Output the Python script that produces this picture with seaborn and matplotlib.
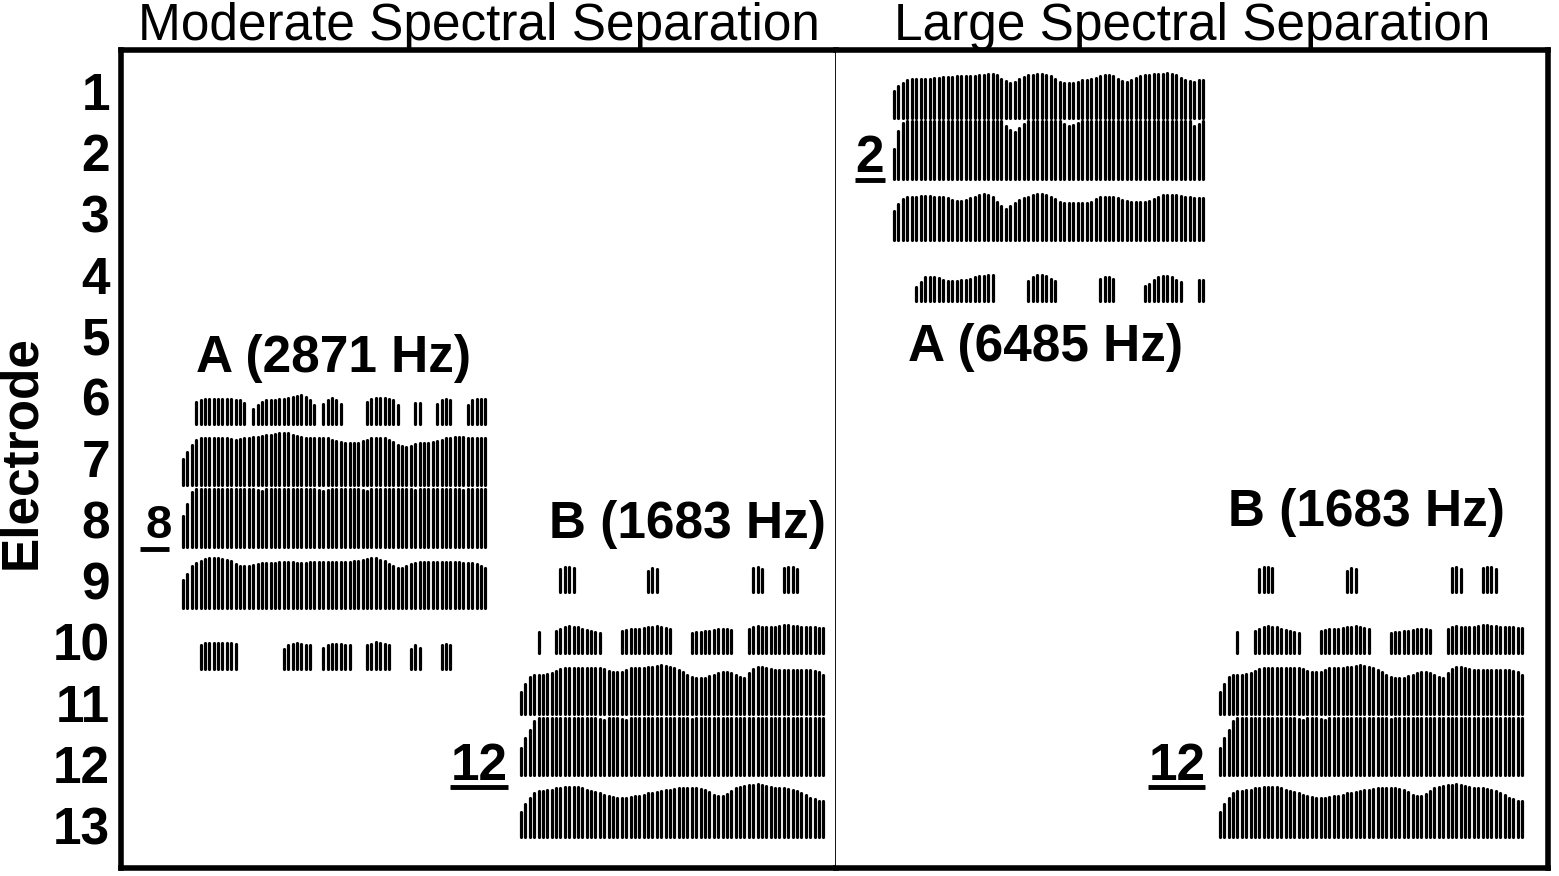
import matplotlib
matplotlib.use("Agg")
import matplotlib.pyplot as plt
import pandas as pd
import seaborn as sns

electrodes = list(range(1, 14))
panel_titles = ["Moderate Spectral Separation", "Large Spectral Separation"]
tone_labels = ["A (2871 Hz)", "B (1683 Hz)", "A (6485 Hz)", "B (1683 Hz)"]
ref_labels = ["8", "12", "2", "12"]

# pulse amplitudes, one value per pulse (70 pulses per row), in % of the electrode spacing
a2871_e6 = [0, 0, 0, 42, 45, 46, 46, 46, 46, 46,
            46, 46, 45, 44, 40, 0, 30, 37, 42, 44,
            44, 44, 46, 46, 48, 50, 52, 53, 50, 45,
            36, 0, 38, 44, 48, 44, 38, 0, 0, 0,
            0, 0, 42, 47, 48, 48, 48, 47, 44, 36,
            0, 0, 0, 40, 40, 0, 0, 0, 38, 44,
            47, 44, 0, 0, 0, 36, 44, 47, 47, 46]
a2871_e7 = [49, 59, 71, 79, 82, 83, 83, 83, 83, 82,
            82, 81, 80, 81, 82, 83, 84, 85, 86, 87,
            88, 89, 90, 91, 90, 88, 86, 84, 83, 83,
            83, 82, 82, 82, 80, 78, 76, 74, 74, 74,
            75, 77, 80, 82, 83, 83, 82, 80, 76, 71,
            69, 68, 70, 72, 74, 75, 75, 76, 78, 80,
            82, 83, 84, 84, 84, 83, 83, 83, 83, 83]
a2871_e8 = [55, 75, 95, 99, 99, 99, 99, 99, 99, 99,
            99, 99, 99, 99, 99, 99, 99, 97, 96, 99,
            99, 99, 99, 99, 99, 99, 99, 99, 99, 99,
            99, 97, 96, 97, 99, 99, 99, 99, 99, 99,
            99, 97, 96, 99, 99, 99, 99, 99, 99, 99,
            99, 99, 99, 97, 99, 99, 99, 99, 99, 99,
            99, 99, 99, 99, 97, 99, 99, 99, 99, 99]
a2871_e9 = [51, 61, 73, 79, 82, 85, 86, 86, 86, 85,
            84, 81, 77, 74, 73, 73, 75, 77, 78, 79,
            79, 79, 80, 80, 80, 80, 79, 79, 79, 80,
            80, 80, 80, 80, 80, 80, 80, 80, 80, 81,
            82, 83, 85, 86, 86, 84, 81, 77, 73, 70,
            70, 73, 77, 79, 80, 80, 80, 80, 80, 80,
            80, 80, 80, 80, 79, 79, 78, 76, 73, 71]
a2871_e10 = [0, 0, 0, 0, 44, 47, 48, 48, 48, 48,
             47, 47, 46, 0, 0, 0, 0, 0, 0, 0,
             0, 0, 0, 38, 44, 46, 48, 46, 45, 44,
             0, 0, 40, 44, 46, 46, 46, 45, 44, 0,
             0, 0, 44, 46, 49, 48, 46, 44, 0, 0,
             0, 0, 38, 44, 40, 0, 0, 0, 0, 44,
             46, 44, 0, 0, 0, 0, 0, 0, 0, 0]

b1683_e9 = [0, 0, 0, 0, 0, 0, 0, 0, 0, 42,
            46, 46, 44, 0, 0, 0, 0, 0, 0, 0,
            0, 0, 0, 0, 0, 0, 0, 0, 0, 40,
            44, 42, 0, 0, 0, 0, 0, 0, 0, 0,
            0, 0, 0, 0, 0, 0, 0, 0, 0, 0,
            0, 0, 0, 45, 46, 42, 0, 0, 0, 0,
            44, 46, 46, 43, 0, 0, 0, 0, 0, 0]
b1683_e10 = [0, 0, 0, 0, 40, 0, 0, 0, 41, 45,
             48, 49, 48, 47, 44, 43, 41, 40, 38, 0,
             0, 0, 0, 42, 43, 44, 44, 45, 46, 47,
             48, 49, 48, 46, 44, 0, 0, 0, 0, 38,
             39, 40, 41, 42, 43, 44, 45, 45, 43, 0,
             0, 0, 44, 48, 50, 48, 47, 47, 48, 50,
             51, 51, 50, 49, 48, 48, 47, 47, 46, 46]
b1683_e11 = [41, 55, 66, 69, 70, 70, 71, 73, 76, 79,
             80, 80, 80, 81, 81, 80, 80, 80, 80, 79,
             76, 74, 74, 75, 78, 80, 80, 81, 81, 82,
             83, 84, 85, 84, 82, 80, 77, 74, 70, 66,
             64, 64, 65, 67, 70, 73, 74, 74, 73, 70,
             66, 64, 72, 79, 82, 82, 80, 79, 78, 78,
             78, 78, 78, 78, 78, 77, 77, 76, 74, 70]
b1683_e12 = [50, 66, 80, 94, 99, 99, 99, 99, 99, 99,
             99, 99, 99, 99, 99, 99, 99, 99, 97, 96,
             99, 99, 99, 97, 96, 99, 99, 99, 99, 99,
             99, 99, 99, 99, 99, 99, 99, 99, 99, 97,
             99, 99, 99, 99, 99, 99, 99, 99, 99, 99,
             99, 99, 99, 99, 99, 99, 99, 99, 99, 99,
             99, 99, 99, 99, 99, 99, 99, 99, 99, 99]
b1683_e13 = [45, 58, 69, 77, 79, 80, 81, 82, 84, 85,
             86, 87, 87, 86, 85, 82, 80, 78, 76, 73,
             71, 70, 69, 69, 69, 70, 71, 72, 74, 76,
             77, 78, 79, 81, 82, 83, 84, 84, 84, 84,
             84, 83, 81, 78, 74, 72, 72, 75, 80, 84,
             86, 88, 89, 90, 91, 90, 88, 86, 84, 84,
             84, 83, 82, 80, 77, 73, 69, 66, 64, 63]

a6485_e1 = [48, 56, 61, 66, 68, 68, 69, 69, 69, 70,
            70, 71, 71, 72, 73, 73, 73, 73, 73, 74,
            75, 76, 77, 74, 69, 65, 62, 63, 68, 72,
            74, 75, 76, 76, 75, 73, 68, 63, 61, 61,
            62, 64, 66, 67, 68, 70, 73, 75, 75, 73,
            69, 65, 64, 66, 70, 73, 74, 75, 76, 77,
            77, 78, 77, 74, 70, 67, 65, 64, 66, 67]
a6485_e2 = [54, 84, 96, 99, 99, 99, 99, 99, 99, 99,
            99, 99, 99, 99, 99, 99, 99, 99, 99, 99,
            99, 99, 99, 99, 99, 92, 85, 82, 88, 95,
            99, 99, 99, 99, 99, 99, 99, 99, 95, 92,
            93, 96, 99, 99, 99, 99, 99, 99, 99, 99,
            99, 99, 99, 99, 99, 99, 99, 99, 99, 99,
            99, 99, 99, 99, 99, 99, 99, 92, 95, 99]
a6485_e3 = [53, 64, 72, 75, 76, 76, 77, 77, 77, 76,
            76, 76, 74, 71, 69, 69, 70, 73, 76, 78,
            80, 79, 76, 68, 60, 56, 60, 66, 70, 73,
            76, 78, 80, 81, 78, 76, 72, 68, 66, 65,
            65, 65, 65, 66, 68, 72, 75, 76, 76, 76,
            74, 71, 69, 68, 68, 68, 68, 69, 72, 76,
            78, 79, 79, 78, 77, 76, 75, 74, 74, 73]
a6485_e4 = [0, 0, 0, 0, 0, 29, 37, 44, 45, 45,
            43, 40, 38, 38, 38, 39, 40, 42, 44, 46,
            47, 48, 48, 0, 0, 0, 0, 0, 0, 0,
            38, 44, 48, 48, 46, 42, 38, 0, 0, 0,
            0, 0, 0, 0, 0, 0, 42, 44, 44, 42,
            0, 0, 0, 0, 0, 0, 30, 34, 40, 44,
            47, 47, 45, 40, 36, 0, 0, 0, 40, 40]

a2871 = {6: a2871_e6, 7: a2871_e7, 8: a2871_e8, 9: a2871_e9, 10: a2871_e10}
b1683 = {9: b1683_e9, 10: b1683_e10, 11: b1683_e11, 12: b1683_e12, 13: b1683_e13}
a6485 = {1: a6485_e1, 2: a6485_e2, 3: a6485_e3, 4: a6485_e4}

# (panel, stimulus, first pulse time, pulse period) - time in pulse periods
stimuli = [(0, a2871, 14.16, 1.0), (0, b1683, 91.3, 1.0),
           (1, a6485, 13.24, 1.023), (1, b1683, 87.67, 1.0)]

# layout
W, H = 1559, 876
baseline_shift = [0.47, 0.21, 0.46, 0.21]
pulse_lw = 2.3
cap = 0.026
label_pos = [(48.6, 5.59), (129.2, 8.30), (47.9, 5.41), (121.2, 8.11)]
ref_pos = [(8.7, 8.30, 8.48, 4.3, 11.0, 34), (81.7, 12.26, 12.38, 75.1, 88.4, 37),
           (7.76, 2.32, 2.45, 4.3, 11.2, 37), (77.9, 12.26, 12.38, 71.2, 84.2, 37)]

sns.set_style("white")
plt.rcParams["font.family"] = ["Liberation Sans", "DejaVu Sans"]
plt.rcParams["text.color"] = "black"
plt.rcParams["ytick.color"] = "black"
plt.rcParams["axes.labelcolor"] = "black"

records = []
pid = 0
for k, (panel, rows, t0, period) in enumerate(stimuli):
    for elec, amps in rows.items():
        base = elec + baseline_shift[k]
        for i, a in enumerate(amps):
            if a <= 0:
                continue
            t = t0 + i * period
            records.append((panel, pid, t, base - cap))
            records.append((panel, pid, t, base - a / 100 + cap))
            pid += 1
pulses = pd.DataFrame(records, columns=["panel", "pulse", "t", "y"])

fig = plt.figure(figsize=(W / 100, H / 100), dpi=100)
ax1 = fig.add_axes([121 / W, 8 / H, 715 / W, 818.5 / H])
ax2 = fig.add_axes([836 / W, 8 / H, 712 / W, 818.5 / H])
axes = [ax1, ax2]
xmax = [163.2, 162.6]

for p, ax in enumerate(axes):
    sns.lineplot(data=pulses[pulses["panel"] == p], x="t", y="y", units="pulse",
                 estimator=None, sort=False, color="black", lw=pulse_lw,
                 solid_capstyle="round", legend=False, ax=ax)
    ax.set_xlim(0, xmax[p])
    ax.set_ylim(13.696, 0.322)
    ax.set_xticks([])
    ax.set_xlabel("")
    ax.set_ylabel("")
    for s in ax.spines.values():
        s.set_color("black")
        s.set_linewidth(4)

ax1.spines["right"].set_linewidth(1.3)
ax2.spines["left"].set_visible(False)
ax1.set_yticks(electrodes)
ax1.set_yticklabels([str(e) for e in electrodes], fontsize=37, fontweight="bold",
                    color="black")
ax1.tick_params(axis="y", length=0, pad=8)
ax2.set_yticks([])

for k, (panel, rows, t0, period) in enumerate(stimuli):
    ax = axes[panel]
    x, y = label_pos[k]
    ax.text(x, y, tone_labels[k], fontsize=37, fontweight="bold",
            ha="center", va="baseline", color="black")
    rx, ry, uy, u0, u1, fs = ref_pos[k]
    ax.text(rx, ry, ref_labels[k], fontsize=fs, fontweight="bold",
            ha="center", va="baseline", color="black")
    ax.plot([u0, u1], [uy, uy], color="black", lw=3.5, solid_capstyle="butt")

fig.text(478.5 / W, 1 - 40 / H, panel_titles[0], fontsize=37, ha="center",
         va="baseline", color="black")
fig.text(1192 / W, 1 - 40 / H, panel_titles[1], fontsize=37, ha="center",
         va="baseline", color="black")
fig.text(22 / W, 1 - 452 / H, "Electrode", fontsize=37, fontweight="bold",
         rotation=90, ha="center", va="center", color="black")

fig.savefig("out.png", dpi=100)
